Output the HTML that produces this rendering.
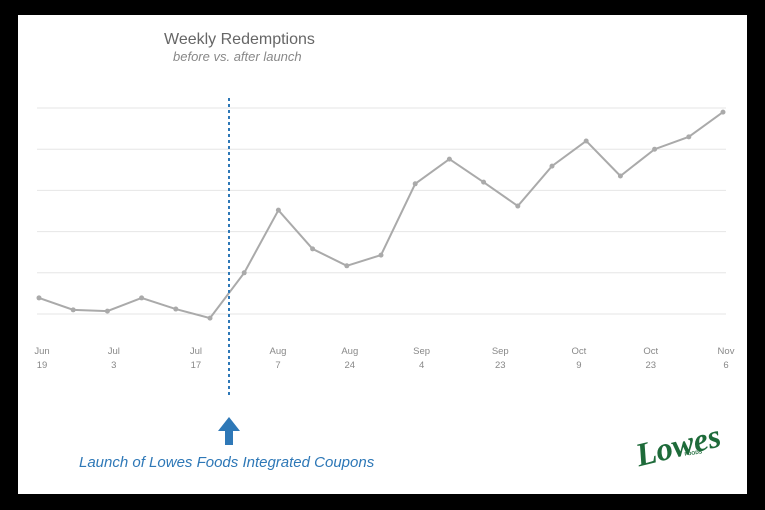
<!DOCTYPE html>
<html><head><meta charset="utf-8"><style>
html,body{margin:0;padding:0;background:#000;}
body{width:765px;height:510px;overflow:hidden;position:relative;font-family:"Liberation Sans",sans-serif;}
</style></head><body>
<svg id="chart" width="765" height="510" style="position:absolute;left:0;top:0">
<rect x="18" y="15" width="729" height="479" fill="#fff"/>
<text x="164" y="44" font-size="16" fill="#666">Weekly Redemptions</text>
<text x="173" y="61" font-size="13" font-style="italic" fill="#888">before vs. after launch</text>
<g id="grid"></g>
<g id="xlabels"></g>
<g id="series"></g>
<line x1="229" y1="98" x2="229" y2="395" stroke="#2e78b7" stroke-width="2" stroke-dasharray="3,3"/>
<g>
<rect x="225" y="430" width="8" height="15" fill="#2e78b7"/>
<polygon points="218,431 240,431 229,417" fill="#2e78b7"/>
</g>
<text x="79" y="467" font-size="15" font-style="italic" fill="#2e78b7">Launch of Lowes Foods Integrated Coupons</text>
<g>
<text x="636" y="458" font-family="'Liberation Serif',serif" font-style="italic" font-weight="bold" font-size="33" fill="#1e6b3a" transform="rotate(-14 672 450)">Lowes</text>
<text x="684" y="455" font-size="5" font-weight="bold" fill="#1e6b3a" transform="rotate(-8 690 450)">FOODS</text>
</g>
</svg>
<script>
const categories=["Jun 19","Jun 26","Jul 3","Jul 10","Jul 17","Jul 24","Jul 31","Aug 7","Aug 14","Aug 24","Aug 28","Sep 4","Sep 11","Sep 18","Sep 23","Oct 2","Oct 9","Oct 16","Oct 23","Oct 30","Nov 6"];
const redemptions=[139,110,107,139,112,90,200,352,258,217,243,416,476,420,362,459,520,435,500,530,590];
const tickLabelsTop=["Jun","Jul","Jul","Aug","Aug","Sep","Sep","Oct","Oct","Nov"];
const tickLabelsBottom=["19","3","17","7","24","4","23","9","23","6"];
const tickIndex=[0,2.1,4.5,6.9,9,11.1,13.4,15.7,17.8,20];
const gridValues=[100,200,300,400,500,600];
const NS="http://www.w3.org/2000/svg";
function xs(i){return 39+i*(723-39)/(categories.length-1);}
function ys(v){return 314-(v-100)/100*41.2;}
const grid=document.getElementById('grid');
gridValues.forEach(v=>{const l=document.createElementNS(NS,'line');


l.setAttribute('x1',37);l.setAttribute('x2',726);l.setAttribute('y1',ys(v));l.setAttribute('y2',ys(v));
l.setAttribute('stroke','#e6e6e6');l.setAttribute('stroke-width','1');grid.appendChild(l);});
const xl=document.getElementById('xlabels');
tickLabelsTop.forEach((t,k)=>{const x=xs(tickIndex[k])+3;
[[t,354],[tickLabelsBottom[k],368]].forEach(([s,y])=>{const e=document.createElementNS(NS,'text');


e.setAttribute('x',x);e.setAttribute('y',y);e.setAttribute('text-anchor','middle');
e.setAttribute('font-size','9.5');e.setAttribute('fill','#888');e.textContent=s;xl.appendChild(e);});});
const sg=document.getElementById('series');
const p=document.createElementNS(NS,'polyline');


p.setAttribute('points',redemptions.map((v,i)=>xs(i)+','+ys(v)).join(' '));
p.setAttribute('fill','none');p.setAttribute('stroke','#aaa');p.setAttribute('stroke-width','2');sg.appendChild(p);
redemptions.forEach((v,i)=>{const c=document.createElementNS(NS,'circle');


c.setAttribute('cx',xs(i));c.setAttribute('cy',ys(v));c.setAttribute('r','2.5');c.setAttribute('fill','#aaa');sg.appendChild(c);});
</script>
</body></html>
